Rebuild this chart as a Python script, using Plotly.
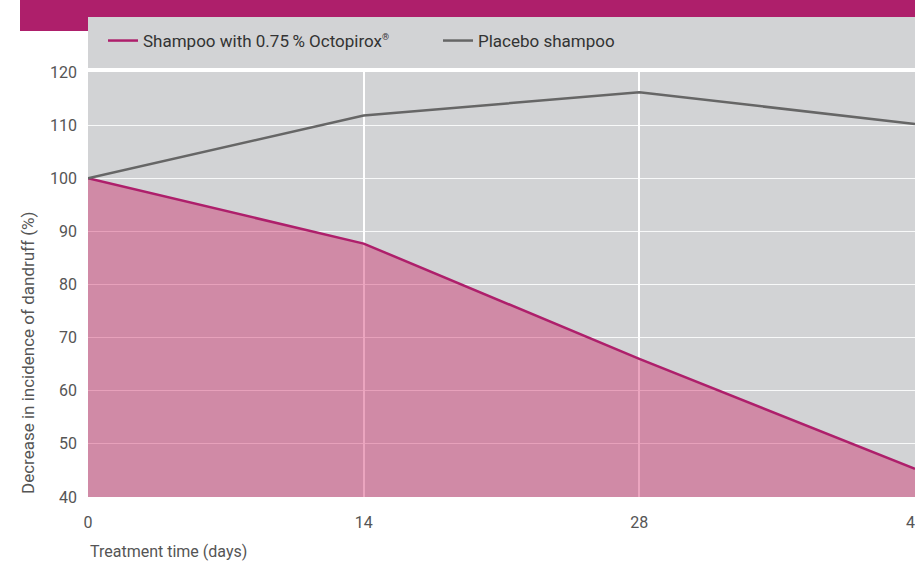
"""Dandruff incidence chart: Octopirox shampoo vs placebo."""

import plotly.graph_objects as go

days = [0, 14, 28, 42]
octopirox = [100, 87.7, 66.0, 45.3]
placebo = [100, 111.8, 116.2, 110.2]
y_ticks = [40, 50, 60, 70, 80, 90, 100, 110, 120]

MAGENTA = "#ae1f6b"
GREY_BG = "#d2d3d5"
FONT = "Roboto, sans-serif"

W, H = 915, 563
ML, MR, MT, MB = 88, 0, 72, 66
plot_h = H - MT - MB
plot_w = W - ML - MR


def py(pixel_y):
    # pixel row -> paper y
    return 1 + (MT - pixel_y) / plot_h


def px(pixel_x):
    return (pixel_x - ML) / plot_w


fig = go.Figure()
# fill under the Octopirox curve, kept out of the legend so the legend shows a plain line
fig.add_trace(
    go.Scatter(
        x=days,
        y=octopirox,
        mode="lines",
        line={"width": 0},
        fill="tozeroy",
        fillcolor="rgba(205, 30, 95, 0.40)",
        showlegend=False,
        hoverinfo="skip",
    )
)
fig.add_trace(
    go.Scatter(
        x=days,
        y=octopirox,
        mode="lines",
        name="Shampoo with 0.75\u2009% Octopirox<sup><span style='font-size:9px'>®</span></sup>",
        line={"color": MAGENTA, "width": 2.5},
    )
)
fig.add_trace(
    go.Scatter(
        x=days,
        y=placebo,
        mode="lines",
        name="Placebo shampoo",
        line={"color": "#666666", "width": 2.5},
    )
)

# banner strip and legend panel behind the plot
fig.add_shape(type="rect", xref="paper", yref="paper", x0=px(20), x1=1, y0=py(31), y1=py(0),
              fillcolor=MAGENTA, line_width=0, layer="below")
fig.add_shape(type="rect", xref="paper", yref="paper", x0=0, x1=1, y0=py(68), y1=py(17),
              fillcolor=GREY_BG, line_width=0, layer="below")

fig.add_annotation(
    text="Decrease in incidence of dandruff (%)", textangle=-90,
    xref="paper", yref="paper", x=px(28), y=py(353), xanchor="center", yanchor="middle",
    showarrow=False, font={"size": 17, "color": "#555555", "family": FONT},
)
fig.add_annotation(
    text="Treatment time (days)", xref="paper", yref="paper",
    x=0, y=py(551), xanchor="left", yanchor="middle", showarrow=False,
    font={"size": 16, "color": "#555555", "family": FONT},
)

fig.update_xaxes(
    range=[0, 42], tickvals=days, showgrid=True, gridcolor="white", gridwidth=1.5,
    zeroline=False, showline=False, ticks="", ticklabelstandoff=14,
    ticklabeloverflow="allow", automargin=False,
    tickfont={"size": 16, "color": "#555555", "family": FONT},
)
fig.update_yaxes(
    range=[40, 120], tickvals=y_ticks, showgrid=True, gridcolor="rgba(255,255,255,0.85)",
    gridwidth=1.2, zeroline=False, showline=False, ticks="", ticklabelstandoff=10,
    automargin=False,
    tickfont={"size": 16, "color": "#555555", "family": FONT},
)

fig.update_layout(
    width=W,
    height=H,
    margin={"l": ML, "r": MR, "t": MT, "b": MB, "pad": 0},
    paper_bgcolor="white",
    plot_bgcolor=GREY_BG,
    font={"family": FONT, "color": "#333333"},
    showlegend=True,
    legend={
        "orientation": "h",
        "x": px(103), "y": py(41), "xanchor": "left", "yanchor": "middle",
        "bgcolor": "rgba(0,0,0,0)",
        "font": {"size": 17, "color": "#333333", "family": FONT},
        "entrywidth": 290,
        "itemclick": False,
    },
)

# the page's default body margin would shift and clip the fixed-size figure
fig.write_html(
    "out.html",
    config={"displayModeBar": False},
    post_script="document.body.style.margin='0';document.body.style.overflow='hidden';",
)
